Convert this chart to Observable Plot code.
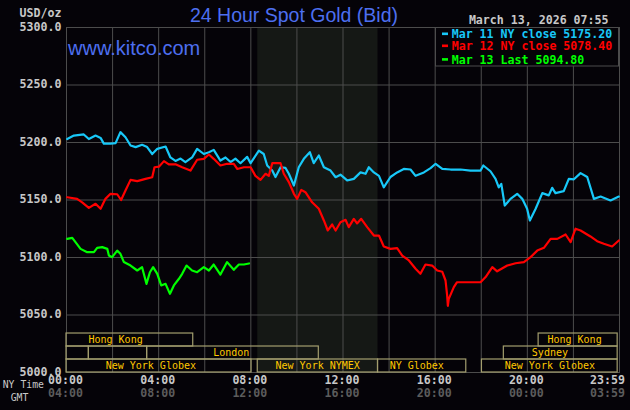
<!DOCTYPE html>
<html><head><meta charset="utf-8">
<script src="https://cdn.jsdelivr.net/npm/d3@7"></script>
<script src="https://cdn.jsdelivr.net/npm/@observablehq/plot@0.6"></script>
<style>
html,body{margin:0;padding:0;background:#050308;}
#chart{width:630px;height:410px;overflow:hidden;}
</style></head><body><div id="chart"></div>
<script>
// ---- Text ----
const titleText = "24 Hour Spot Gold (Bid)";
const siteText = "www.kitco.com";
const unitText = "USD/oz";
const dateText = "March 13, 2026 07:55";
const legendLabels = ["Mar 11 NY close 5175.20", "Mar 12 NY close 5078.40", "Mar 13 Last 5094.80"];
const seriesNames = ["Mar 11", "Mar 12", "Mar 13"];
const seriesColors = ["#18c8f8", "#ff0000", "#00ff00"];

// ---- Axes ----
const priceTicks = [5000, 5050, 5100, 5150, 5200, 5250, 5300];
const hourGrid = [0, 2, 4, 6, 8, 10, 12, 14, 16, 18, 20, 22, 24];
const hourTicks = [0, 4, 8, 12, 16, 20, 24];
const nyTimeLabels = ["00:00", "04:00", "08:00", "12:00", "16:00", "20:00", "23:59"];
const gmtLabels = ["04:00", "08:00", "12:00", "16:00", "20:00", "00:00", "03:59"];

// ---- Series (hour of NY day, price) ----
const mar11Hours = [0.03,0.32,0.75,0.97,1.26,1.48,1.62,1.91,2.13,2.34,2.56,2.78,3.0,3.28,3.5,3.72,3.94,4.30,4.51,4.73,4.95,5.16,5.45,5.67,5.96,6.18,6.39,6.68,6.9,7.12,7.33,7.55,7.84,7.99,8.35,8.56,8.71,8.93,9.07,9.29,9.5,9.65,9.87,10.08,10.3,10.56,10.73,10.95,11.17,11.46,11.68,11.89,12.18,12.47,12.76,12.98,13.12,13.34,13.56,13.77,14.06,14.35,14.64,14.93,15.15,15.51,15.8,16.02,16.31,16.67,17.1,17.53,17.97,18.09,18.4,18.62,18.76,18.87,19.02,19.27,19.56,19.78,19.99,20.11,20.36,20.65,20.93,21.08,21.22,21.58,21.8,22.02,22.31,22.6,22.89,23.18,23.61,23.97];
const mar11Prices = [5203,5206,5207,5203,5206,5204,5199,5199,5199.5,5209,5204.6,5197.4,5196,5198,5196,5190,5194.5,5196.5,5187,5184,5186,5183,5187,5194.5,5190,5191.5,5193.6,5184.3,5187,5183,5186,5182,5187.5,5182,5193,5190,5180,5175.6,5170,5178.5,5178,5172.8,5162.6,5178.5,5185.8,5191.6,5182,5188.7,5178.5,5175.6,5169.8,5172,5167,5168.4,5174,5172.8,5178.5,5174,5171,5161,5170,5174,5177,5176.5,5171,5174,5177.7,5181.5,5177,5176.5,5176.5,5175.6,5175.6,5180,5175,5168.4,5161,5164,5145.2,5151,5155.4,5151,5142.4,5132.2,5142.4,5156,5154,5160.6,5156,5157.7,5168.4,5168,5173.4,5170,5151,5153,5149.6,5153];

const mar12Hours = [0.03,0.46,0.68,0.97,1.26,1.48,1.69,1.91,2.2,2.37,2.56,2.78,3.07,3.43,3.72,3.82,4.01,4.23,4.44,4.73,5.02,5.38,5.67,5.96,6.18,6.39,6.68,6.97,7.26,7.41,7.7,7.99,8.2,8.42,8.64,8.78,8.93,9.29,9.43,9.65,9.87,10.01,10.19,10.37,10.66,10.95,11.17,11.34,11.53,11.68,11.89,12.11,12.25,12.47,12.61,12.79,13.05,13.34,13.56,13.77,14.06,14.35,14.57,14.86,15.15,15.36,15.58,15.87,16.09,16.31,16.45,16.52,16.55,16.59,16.81,16.95,17.97,18.19,18.48,18.69,19.13,19.49,19.85,20.14,20.43,20.72,21.01,21.3,21.66,21.88,22.09,22.31,22.74,23.03,23.32,23.68,23.97];
const mar12Prices = [5152.4,5151,5148,5143.2,5146.7,5142.4,5151,5155.4,5155,5150,5158.3,5167.5,5166.4,5168.4,5169.8,5178.5,5179,5183.8,5181,5181,5178.5,5175.6,5185,5185.8,5189.6,5185.8,5180,5181.5,5181.5,5177,5178.5,5178.5,5171,5167.5,5172.8,5171,5182,5182,5172.8,5165.5,5155.4,5151,5158.8,5156.8,5148,5142.4,5132.2,5123.5,5128.7,5123.5,5130.7,5132.8,5126.4,5133.6,5129.6,5133.6,5126.4,5119.1,5119.1,5109.6,5107.5,5108.2,5101.7,5097.4,5090.2,5085.8,5093.9,5093,5088.7,5087.6,5080,5067,5058,5064,5074.2,5078.5,5078.5,5083,5091.6,5088,5093,5095,5096,5100.3,5106,5108.4,5116.2,5116.2,5120,5113.3,5125,5123.5,5118.3,5114.2,5111.9,5109.6,5114.8];

const mar13Hours = [0.03,0.25,0.39,0.61,0.9,1.19,1.33,1.55,1.77,1.84,1.98,2.2,2.34,2.49,2.78,3.07,3.28,3.47,3.62,3.76,3.94,4.11,4.3,4.49,4.66,4.88,5.02,5.21,5.45,5.67,5.96,6.18,6.39,6.68,6.97,7.26,7.48,7.7,7.92];
const mar13Prices = [5116.2,5117,5113.3,5107.5,5104.6,5104.6,5108.4,5109,5107.5,5101.7,5100.3,5106,5103.2,5096,5093,5088.7,5091.6,5077.1,5087.2,5091.6,5085.8,5075.7,5077.1,5068.4,5075.7,5081.5,5085.8,5093,5088.7,5087.2,5091.6,5088.7,5093.9,5085.2,5096,5089.3,5093.9,5093.9,5094.8];

// ---- Market sessions (row 0 = bottom) ----
const sessionNames = ["Hong Kong", "Hong Kong", "", "", "London", "Sydney", "New York Globex", "New York NYMEX", "NY Globex", "New York Globex"];
const sessionRows = [2, 2, 1, 1, 1, 1, 0, 0, 0, 0];
const sessionStarts = [0, 20.49, 0, 0.97, 3.5, 18.98, 0, 8.3, 13.52, 18.03];
const sessionEnds = [5.5, 23.92, 0.97, 3.5, 10.95, 23.92, 8.03, 13.52, 17.35, 23.92];
const sessionLabelHours = [2.13, 22.05, 0, 0, 7.15, 20.98, 3.66, 10.9, 15.2, 20.98];

// ---- Build tables ----
const seriesHours = [mar11Hours, mar12Hours, mar13Hours];
const seriesPrices = [mar11Prices, mar12Prices, mar13Prices];
const points = seriesNames.flatMap((s, i) => seriesHours[i].map((h, j) => ({s, h, p: seriesPrices[i][j]})));
const rowSpan = 11.3; // price units per session row
const sessions = sessionNames.map((name, i) => ({
  name, row: sessionRows[i], x1: sessionStarts[i], x2: sessionEnds[i], lx: sessionLabelHours[i],
  y1: 5000 + sessionRows[i] * rowSpan, y2: 5000 + (sessionRows[i] + 1) * rowSpan,
  ym: 5000 + (sessionRows[i] + 0.5) * rowSpan
}));
const nymex = sessions.filter(d => d.name === "New York NYMEX");

const bg = "#050308", grid = "#4c4c4c", labelGray = "#c8c8c8", gmtGray = "#5c5c5c";
const mono = "'DejaVu Sans Mono', 'Liberation Mono', monospace";
const sans = "'Liberation Sans', Arial, sans-serif";
const blue = "#4d6ff0";

function overlay(index, scales, values, dims) {
  const g = d3.create("svg:g").attr("text-anchor", "start");
  g.append("text").attr("x", 294).attr("y", 21.7).attr("text-anchor", "middle")
    .attr("font-family", sans).attr("font-size", 19.5).attr("fill", blue).text(titleText);
  g.append("text").attr("x", 68).attr("y", 55).attr("font-family", sans).attr("font-size", 20)
    .attr("fill", blue).text(siteText);
  g.append("text").attr("x", 61.5).attr("y", 16.7).attr("text-anchor", "end")
    .attr("font-family", mono).attr("font-weight", "bold").attr("font-size", 11.6).attr("fill", labelGray).text(unitText);
  g.append("text").attr("x", 608.5).attr("y", 24).attr("text-anchor", "end")
    .attr("font-family", mono).attr("font-weight", "bold").attr("font-size", 11.6).attr("fill", labelGray).text(dateText);
  // legend
  g.append("rect").attr("x", 435.5).attr("y", 27.5).attr("width", 183).attr("height", 38.5)
    .attr("fill", bg).attr("stroke", grid);
  const lineY = [33.7, 45.7, 59.3];
  legendLabels.forEach((t, i) => {
    g.append("rect").attr("x", 442).attr("y", lineY[i] - 1.2).attr("width", 6).attr("height", 2.6).attr("fill", seriesColors[i]);
    g.append("text").attr("x", 451.7).attr("y", lineY[i] + 4.3)
      .attr("font-family", mono).attr("font-weight", "bold").attr("font-size", 11.6).attr("fill", seriesColors[i]).text(t);
  });
  g.append("text").attr("x", 2.7).attr("y", 387.7).attr("font-family", mono).attr("font-size", 9.8)
    .attr("fill", labelGray).text("NY Time");
  g.append("text").attr("x", 10.7).attr("y", 400.7).attr("font-family", mono).attr("font-size", 9.8)
    .attr("fill", labelGray).text("GMT");
  return g.node();
}

const textStyle = {fontFamily: mono, fontWeight: "bold", fontSize: 11.6};

const chart = Plot.plot({
  width: 630, height: 410,
  marginLeft: 66, marginRight: 11, marginTop: 27, marginBottom: 38,
  style: {background: bg, fontFamily: mono, overflow: "visible"},
  x: {domain: [0, 24], axis: null},
  y: {domain: [5000, 5300], axis: null},
  color: {domain: seriesNames, range: seriesColors},
  marks: [
    Plot.rect(nymex, {x1: "x1", x2: "x2", fill: "#151815"}),
    Plot.ruleY(priceTicks, {stroke: grid, strokeWidth: 1}),
    Plot.ruleX(hourGrid, {stroke: grid, strokeWidth: 1}),
    Plot.frame({stroke: grid}),
    Plot.rect(sessions, {x1: "x1", x2: "x2", y1: "y1", y2: "y2", fill: "none", stroke: "#a39e6e", strokeWidth: 1.2}),
    Plot.text(sessions.filter(d => d.name), {x: "lx", y: "ym", text: "name", fill: "#ffc800",
      fontFamily: mono, fontSize: 10, lineAnchor: "middle"}),
    Plot.line(points, {x: "h", y: "p", z: "s", stroke: "s", strokeWidth: 2.2, strokeLinejoin: "round"}),
    Plot.text(priceTicks, {x: () => 0, y: d => d, text: d => d.toFixed(1), textAnchor: "end", dx: -5, dy: -0.5,
      fill: labelGray, ...textStyle}),
    Plot.text(hourTicks.slice(0, 6), {x: d => d, text: (d, i) => nyTimeLabels[i], frameAnchor: "bottom", dy: 11.2, dx: -1,
      fill: labelGray, ...textStyle}),
    Plot.text(hourTicks.slice(6), {x: d => d, text: (d, i) => nyTimeLabels[6 + i], frameAnchor: "bottom", dy: 11.2, dx: 5.5,
      textAnchor: "end", fill: labelGray, ...textStyle}),
    Plot.text(hourTicks.slice(0, 6), {x: d => d, text: (d, i) => gmtLabels[i], frameAnchor: "bottom", dy: 24.2, dx: -1,
      fill: gmtGray, ...textStyle}),
    Plot.text(hourTicks.slice(6), {x: d => d, text: (d, i) => gmtLabels[6 + i], frameAnchor: "bottom", dy: 24.2, dx: 5.5,
      textAnchor: "end", fill: gmtGray, ...textStyle}),
    overlay
  ]
});
document.getElementById("chart").appendChild(chart);
</script></body></html>
